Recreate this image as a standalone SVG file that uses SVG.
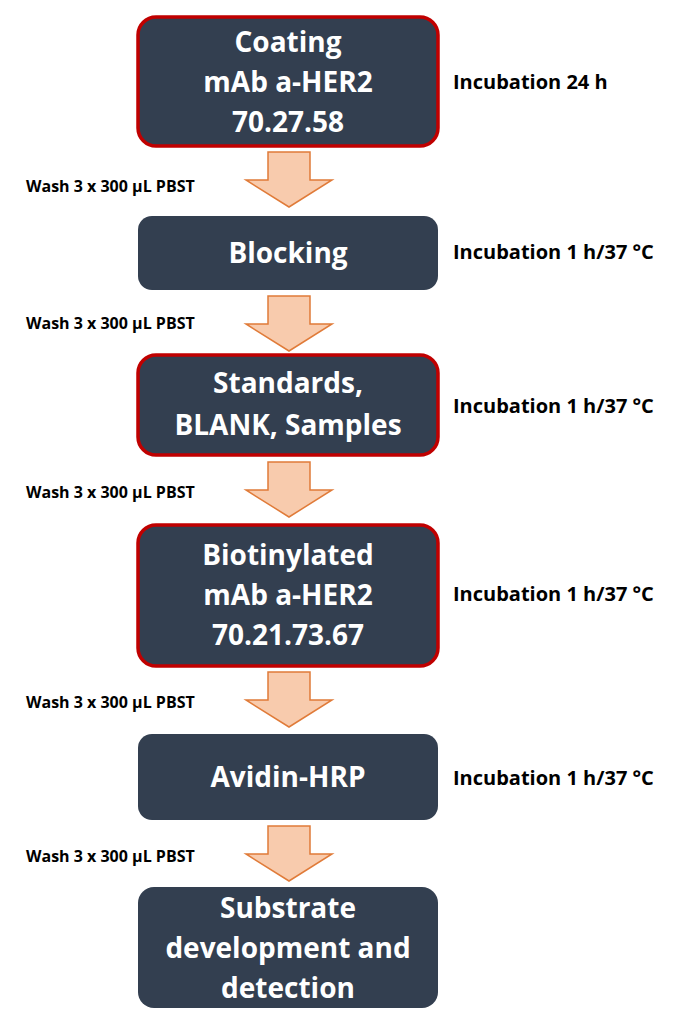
<svg xmlns="http://www.w3.org/2000/svg" width="700" height="1017" viewBox="0 0 700 1017">
<defs>
<style>
.box{fill:#333f50}
.red{stroke:#c00000;stroke-width:3.5}
.bt{fill:#fff;font-family:"Open Sans","DejaVu Sans",sans-serif;font-weight:bold;font-size:28px;text-anchor:middle}
.side{fill:#000;font-family:"Open Sans","DejaVu Sans",sans-serif;font-weight:bold;font-size:20px}
.wash{fill:#000;font-family:"Open Sans","DejaVu Sans",sans-serif;font-weight:bold;font-size:16px}
.arr{fill:#f8cbad;stroke:#e07b39;stroke-width:1.5}
</style>
<path id="ar" class="arr" d="M268,0 H310 V28 H332 L289,55 L246,28 H268 Z"/>
</defs>
<rect width="700" height="1017" fill="#fff"/>
<g id="connectors">
<use href="#ar" y="152"/>
<use href="#ar" y="296"/>
<use href="#ar" y="462"/>
<use href="#ar" y="672"/>
<use href="#ar" y="826"/>
<text class="wash" x="26" y="192">Wash 3 x 300 µL PBST</text>
<text class="wash" x="26" y="329">Wash 3 x 300 µL PBST</text>
<text class="wash" x="26" y="498">Wash 3 x 300 µL PBST</text>
<text class="wash" x="26" y="708">Wash 3 x 300 µL PBST</text>
<text class="wash" x="26" y="862">Wash 3 x 300 µL PBST</text>
</g>
<g id="n1"><rect class="box red" x="138" y="17" width="300" height="129" rx="18"/>
<text class="bt" x="288" y="52">Coating</text><text class="bt" x="288" y="92">mAb a-HER2</text><text class="bt" x="288" y="132">70.27.58</text>
<text class="side" x="453" y="89">Incubation 24 h</text></g>
<g id="n2"><rect class="box" x="138" y="216" width="300" height="74" rx="14"/>
<text class="bt" x="288" y="263">Blocking</text>
<text class="side" x="453" y="259">Incubation 1 h/37 °C</text></g>
<g id="n3"><rect class="box red" x="138" y="355" width="300" height="100" rx="18"/>
<text class="bt" x="288" y="393">Standards,</text><text class="bt" x="288" y="435">BLANK, Samples</text>
<text class="side" x="453" y="413">Incubation 1 h/37 °C</text></g>
<g id="n4"><rect class="box red" x="138" y="525" width="300" height="141" rx="18"/>
<text class="bt" x="288" y="565">Biotinylated</text><text class="bt" x="288" y="605">mAb a-HER2</text><text class="bt" x="288" y="645">70.21.73.67</text>
<text class="side" x="453" y="601">Incubation 1 h/37 °C</text></g>
<g id="n5"><rect class="box" x="138" y="734" width="300" height="86" rx="14"/>
<text class="bt" x="288" y="787">Avidin-HRP</text>
<text class="side" x="453" y="785">Incubation 1 h/37 °C</text></g>
<g id="n6"><rect class="box" x="138" y="887" width="300" height="121" rx="16"/>
<text class="bt" x="288" y="918">Substrate</text><text class="bt" x="288" y="958">development and</text><text class="bt" x="288" y="998">detection</text></g>
</svg>
